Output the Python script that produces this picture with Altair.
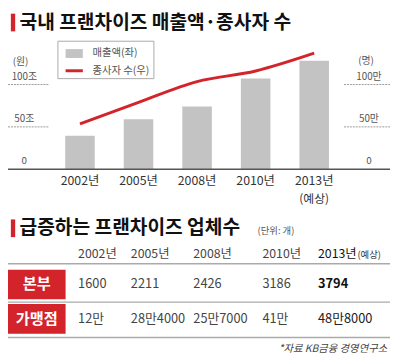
import altair as alt
import pandas as pd

# ---------------- data ----------------
years = ["2002년", "2005년", "2008년", "2010년", "2013년"]
sales = [39.5, 59, 74, 107, 128]          # 매출액 (조 원)
staff = [53.5, 79, 103.5, 116, 137]       # 종사자 수 (만 명)
forecast_note = ["", "", "", "", "(예상)"]
tick_vals = [0, 50, 100]
left_ticks = ["0", "50조", "100조"]
right_ticks = ["0", "50만", "100만"]
legend_items = ["매출액(좌)", "종사자 수(우)"]
titles = ["국내 프랜차이즈 매출액·종사자 수", "급증하는 프랜차이즈 업체수"]

table_years = [2002, 2005, 2008, 2010, 2013]
table_headers = ["2002년", "2005년", "2008년", "2010년", "2013년"]
hq = ["1600", "2211", "2426", "3186", "3794"]
stores = ["12만", "28만4000", "25만7000", "41만", "48만8000"]
row_names = ["본부", "가맹점"]
source = "*자료 KB금융 경영연구소"

# ---------------- layout helpers ----------------
W, H = 388, 350
FONT = "Noto Sans CJK KR"
RED = "#d3232b"


def X(v):
    return round(v * 0.975, 1)


def Y(v):
    return v - 8


chart_df = pd.DataFrame({"year": years, "note": forecast_note, "sales": sales, "staff": staff})
ticks_df = pd.DataFrame({"val": tick_vals, "left": left_ticks, "right": right_ticks})

xs = alt.Scale(type="point", domain=years, range=[X(75), X(319)], padding=0)
ys = alt.Scale(domain=[0, 100], range=[Y(169), Y(83)], nice=False)

bars = alt.Chart(chart_df).mark_bar(size=30, color="#c3c3c3").encode(
    x=alt.X("year:N", scale=xs, axis=None),
    y=alt.Y("sales:Q", scale=ys, axis=None),
)
line = alt.Chart(chart_df).mark_line(color=RED, strokeWidth=3, interpolate="monotone").encode(
    x=alt.X("year:N", scale=xs, axis=None),
    y=alt.Y("staff:Q", scale=ys, axis=None),
)
xlabels = alt.Chart(chart_df).mark_text(font=FONT, fontSize=12.5, color="#333").encode(
    x=alt.X("year:N", scale=xs, axis=None),
    y=alt.value(Y(181)),
    text="year:N",
)
xnotes = alt.Chart(chart_df).transform_filter("datum.note != ''").mark_text(
    font=FONT, fontSize=12, color="#333"
).encode(
    x=alt.X("year:N", scale=xs, axis=None),
    y=alt.value(Y(199)),
    text="note:N",
)

baseline = alt.Chart(ticks_df).transform_filter("datum.val == 0").mark_rule(
    color="#555", strokeWidth=1.5
).encode(y=alt.Y("val:Q", scale=ys, axis=None), x=alt.value(0), x2=alt.value(W))

left_dash = alt.Chart(ticks_df).transform_filter("datum.val > 0").mark_rule(
    color="#999", strokeWidth=1, strokeDash=[2, 1]
).encode(y=alt.Y("val:Q", scale=ys, axis=None), x=alt.value(0), x2=alt.value(X(43)))
right_dash = alt.Chart(ticks_df).transform_filter("datum.val > 0").mark_rule(
    color="#999", strokeWidth=1, strokeDash=[2, 1]
).encode(y=alt.Y("val:Q", scale=ys, axis=None), x=alt.value(X(350)), x2=alt.value(W))

left_lbl = alt.Chart(ticks_df).mark_text(font=FONT, fontSize=10, color="#555", dy=-8).encode(
    y=alt.Y("val:Q", scale=ys, axis=None), x=alt.value(X(17)), text="left:N"
)
right_lbl = alt.Chart(ticks_df).mark_text(font=FONT, fontSize=10, color="#555", dy=-8).encode(
    y=alt.Y("val:Q", scale=ys, axis=None), x=alt.value(X(376)), text="right:N"
)
unit_l = alt.Chart(pd.DataFrame({"t": ["(원)"]})).mark_text(font=FONT, fontSize=10, color="#555").encode(
    x=alt.value(X(13)), y=alt.value(Y(60)), text="t:N"
)
unit_r = alt.Chart(pd.DataFrame({"t": ["(명)"]})).mark_text(font=FONT, fontSize=10, color="#555").encode(
    x=alt.value(X(373)), y=alt.value(Y(59)), text="t:N"
)

# legend
leg_df = pd.DataFrame({"item": legend_items})
leg_box = alt.Chart(leg_df).transform_filter("datum.item == '매출액(좌)'").mark_rect(
    fill="white", stroke="#aaa", strokeWidth=1
).encode(x=alt.value(X(52)), x2=alt.value(X(152)), y=alt.value(Y(39)), y2=alt.value(Y(77)))
leg_sq = alt.Chart(leg_df).transform_filter("datum.item == '매출액(좌)'").mark_rect(
    fill="#c3c3c3"
).encode(x=alt.value(X(60)), x2=alt.value(X(78)), y=alt.value(Y(47)), y2=alt.value(Y(56)))
leg_ln = alt.Chart(leg_df).transform_filter("datum.item == '종사자 수(우)'").mark_rule(
    color=RED, strokeWidth=3
).encode(x=alt.value(X(60)), x2=alt.value(X(78)), y=alt.value(Y(69)))
leg_t1 = alt.Chart(leg_df).transform_filter("datum.item == '매출액(좌)'").mark_text(
    font=FONT, fontSize=10.5, color="#555", align="left"
).encode(x=alt.value(X(88)), y=alt.value(Y(51)), text="item:N")
leg_t2 = alt.Chart(leg_df).transform_filter("datum.item == '종사자 수(우)'").mark_text(
    font=FONT, fontSize=10.5, color="#555", align="left"
).encode(x=alt.value(X(88)), y=alt.value(Y(69)), text="item:N")

# titles
title_df = pd.DataFrame({"t": titles, "n": [0, 1]})
title1 = alt.Chart(title_df).transform_filter("datum.n == 0").mark_text(
    font=FONT, fontSize=19.5, fontWeight="bold", color="#111", align="left"
).encode(x=alt.value(X(12)), y=alt.value(Y(21)), text="t:N")
mark1 = alt.Chart(title_df).transform_filter("datum.n == 0").mark_rect(fill=RED).encode(
    x=alt.value(X(3)), x2=alt.value(X(7.5)), y=alt.value(Y(11)), y2=alt.value(Y(29))
)
title2 = alt.Chart(title_df).transform_filter("datum.n == 1").mark_text(
    font=FONT, fontSize=19.5, fontWeight="bold", color="#111", align="left"
).encode(x=alt.value(X(12)), y=alt.value(Y(229)), text="t:N")
mark2 = alt.Chart(title_df).transform_filter("datum.n == 1").mark_rect(fill=RED).encode(
    x=alt.value(X(3)), x2=alt.value(X(7.5)), y=alt.value(Y(220)), y2=alt.value(Y(238))
)
unit_t = alt.Chart(pd.DataFrame({"t": ["(단위: 개)"]})).mark_text(
    font=FONT, fontSize=9.5, color="#555", align="left"
).encode(x=alt.value(X(260)), y=alt.value(Y(232)), text="t:N")

# table
rows = []
for i, yr in enumerate(table_years):
    rows.append({"yr": yr, "row": 0, "text": table_headers[i]})
    rows.append({"yr": yr, "row": 1, "text": hq[i]})
    rows.append({"yr": yr, "row": 2, "text": stores[i]})
table_df = pd.DataFrame(rows)

tx = alt.Scale(domain=table_years, range=[X(73), X(128), X(193), X(265), X(323)], zero=False, nice=False)
ty = alt.Scale(domain=[0, 1, 2], range=[Y(255), Y(286), Y(321)], zero=False, nice=False)


def table_layer(filt, size, color, weight="normal"):
    return alt.Chart(table_df).transform_filter(filt).mark_text(
        font=FONT, fontSize=size, color=color, fontWeight=weight, align="left"
    ).encode(
        x=alt.X("yr:Q", scale=tx, axis=None),
        y=alt.Y("row:Q", scale=ty, axis=None),
        text="text:N",
    )


t_head = table_layer("datum.row == 0 && datum.yr < 2013", 12.5, "#444")
t_head13 = table_layer("datum.row == 0 && datum.yr == 2013", 12.5, "#111")
t_vals = table_layer("datum.row > 0 && datum.yr < 2013", 13, "#444")
t_hq13 = table_layer("datum.row == 1 && datum.yr == 2013", 13, "#111", "bold")
t_st13 = table_layer("datum.row == 2 && datum.yr == 2013", 13, "#222")
yesang = alt.Chart(pd.DataFrame({"t": ["(예상)"]})).mark_text(
    font=FONT, fontSize=9.5, color="#333", align="left"
).encode(x=alt.value(X(364)), y=alt.value(Y(256)), text="t:N")

row_df = pd.DataFrame({"name": row_names, "row": [1, 2]})
row_box = alt.Chart(row_df).mark_rule(color=RED, strokeWidth=30, strokeCap="butt").encode(
    y=alt.Y("row:Q", scale=ty, axis=None), x=alt.value(0), x2=alt.value(X(60))
)
row_txt = alt.Chart(row_df).mark_text(font=FONT, fontSize=15.5, fontWeight="bold", color="white").encode(
    y=alt.Y("row:Q", scale=ty, axis=None), x=alt.value(X(30)), text="name:N"
)

sep_df = pd.DataFrame({"k": ["a"]})
seps = [
    alt.Chart(sep_df).mark_rule(color="#aaa", strokeWidth=1.5).encode(
        x=alt.value(0), x2=alt.value(W), y=alt.value(Y(yv))
    )
    for yv in (265, 304, 340)
]

foot = alt.Chart(pd.DataFrame({"t": [source]})).mark_text(
    font=FONT, fontSize=10.5, color="#444", align="right", fontStyle="italic"
).encode(x=alt.value(X(395)), y=alt.value(Y(352)), text="t:N")

chart = alt.layer(
    bars, line, baseline, left_dash, right_dash, left_lbl, right_lbl, unit_l, unit_r,
    xlabels, xnotes,
    leg_box, leg_sq, leg_ln, leg_t1, leg_t2,
    title1, mark1, title2, mark2, unit_t,
    *seps, row_box, row_txt,
    t_head, t_head13, t_vals, t_hq13, t_st13, yesang, foot,
).resolve_scale(x="independent", y="independent").properties(
    width=W, height=H, padding=0, autosize="none"
).configure_view(stroke=None)

chart.save("out.html", embed_options={"renderer": "svg", "actions": False})
